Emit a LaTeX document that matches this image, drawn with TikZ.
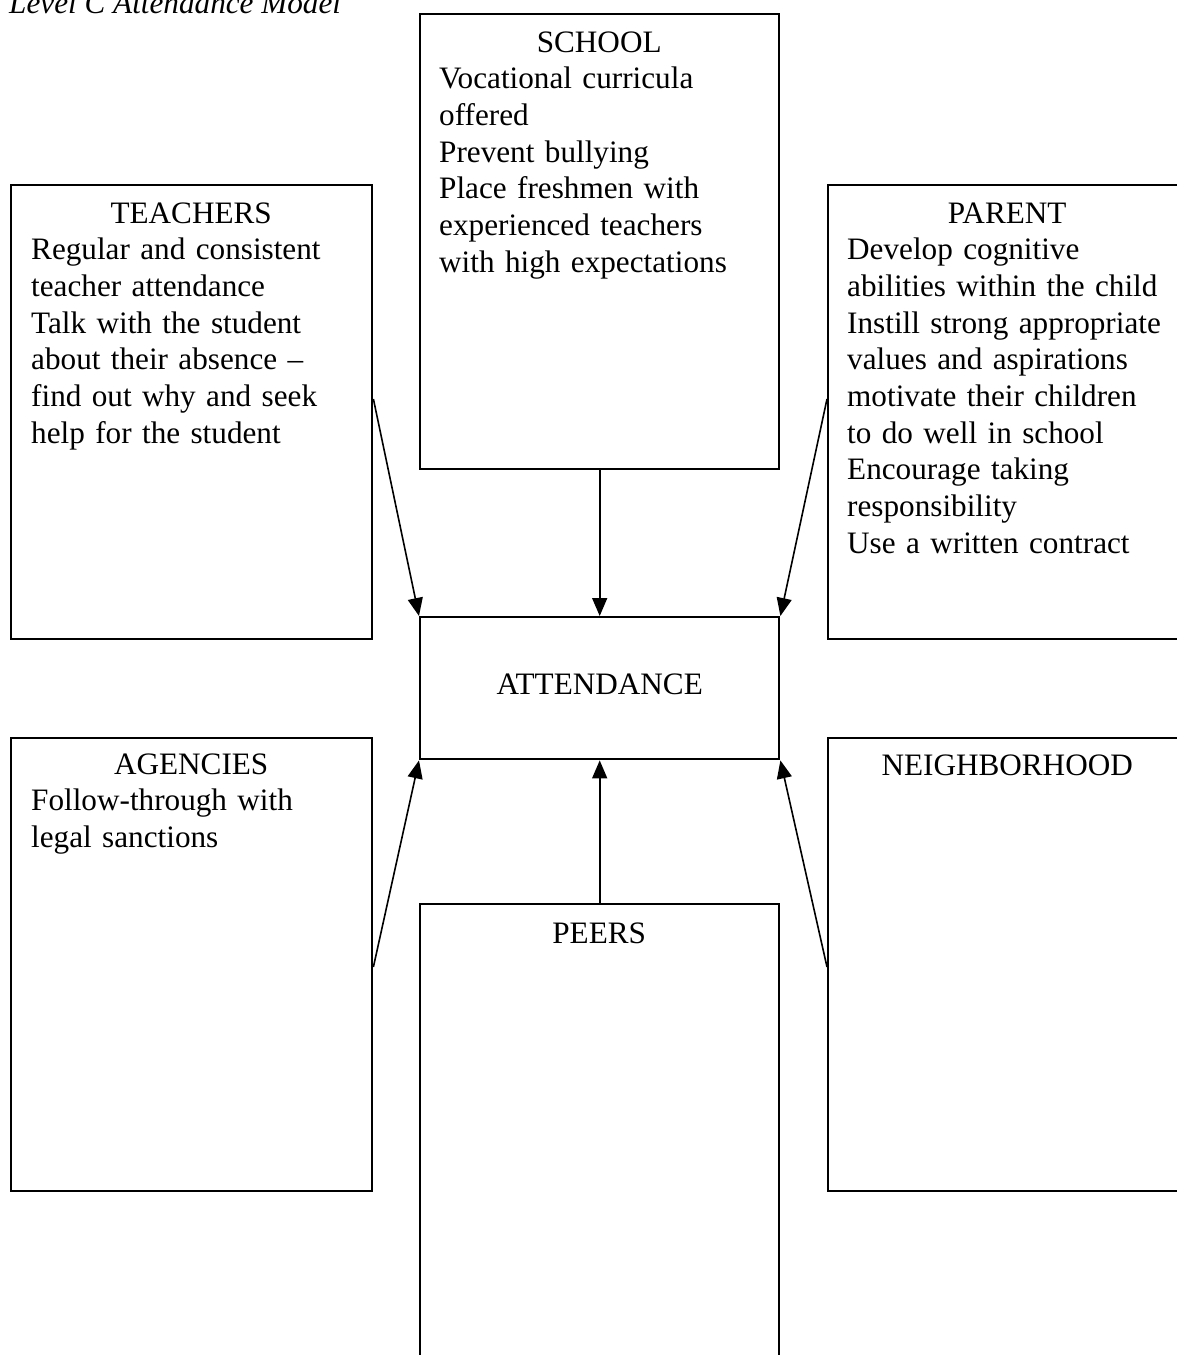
\documentclass[tikz,border=0pt]{standalone}
\usepackage{fontspec}
\setmainfont{Liberation Serif}
\usetikzlibrary{arrows.meta,calc}

\begin{document}
\begin{tikzpicture}[x=1pt, y=-1pt, font=\fontsize{31.2}{36.7}\selectfont,
    box/.style={draw, line width=2.4pt, anchor=north west, inner sep=0pt},
    txt/.style={anchor=base west, text width=320pt, align=left, inner sep=0pt,
                execute at begin node={\hyphenpenalty=10000\exhyphenpenalty=10000}},
    link/.style={line width=1.6pt, -{Triangle[length=18pt,width=15pt]}}]
  \useasboundingbox (0,0) rectangle (1177,1355);
  \clip (0,0) rectangle (1177,1355);
  \fill[white] (0,0) rectangle (1177,1355);

  \node[anchor=base west, inner sep=0pt, font=\fontsize{31.2}{36.7}\selectfont\itshape]
    (title) at (9,13) {Level C Attendance Model};

  \node[box, minimum width=359pt, minimum height=455pt] (school) at (419,13) {};
  \node[box, minimum width=361pt, minimum height=454pt] (teachers) at (10,184) {};
  \node[box, minimum width=361pt, minimum height=454pt] (parent) at (827,184) {};
  \node[box, minimum width=359pt, minimum height=142pt, text depth=9pt] (att) at (419,616) {ATTENDANCE};
  \node[box, minimum width=361pt, minimum height=453pt] (agencies) at (10,737) {};
  \node[box, minimum width=361pt, minimum height=453pt] (neigh) at (827,737) {};
  \node[box, minimum width=359pt, minimum height=500pt] (peers) at (419,903) {};

  \node[txt] (schooltxt) at ([xshift=20pt,yshift=-39pt]school.north west)
    {\hfill SCHOOL\hfill\null\\ Vocational curricula\\ offered\\ Prevent bullying\\
     Place freshmen with\\ experienced teachers\\ with high expectations};
  \node[txt] (teacherstxt) at ([xshift=21pt,yshift=-39pt]teachers.north west)
    {\hfill TEACHERS\hfill\null\\ Regular and consistent\\ teacher attendance\\
     Talk with the student\\ about their absence –\\ find out why and seek\\
     help for the student};
  \node[txt] (parenttxt) at ([xshift=20pt,yshift=-39pt]parent.north west)
    {\hfill PARENT\hfill\null\\ Develop cognitive\\ abilities within the child\\
     Instill strong appropriate\\ values and aspirations\\ motivate their children\\
     to do well in school\\ Encourage taking\\ responsibility\\ Use a written contract};
  \node[txt] (agenciestxt) at ([xshift=21pt,yshift=-37pt]agencies.north west)
    {\hfill AGENCIES\hfill\null\\ Follow-through with\\ legal sanctions};
  \node[txt] (neightxt) at ([xshift=20pt,yshift=-38pt]neigh.north west)
    {\hfill NEIGHBORHOOD\hfill\null};
  \node[txt] (peerstxt) at ([xshift=20pt,yshift=-40pt]peers.north west)
    {\hfill PEERS\hfill\null};

  \draw[link] (school) -- (att);
  \draw[link] (peers) -- (att);
  \draw[link] ($(teachers.north east)!.471!(teachers.south east)$) -- (att.north west);
  \draw[link] ($(parent.north west)!.471!(parent.south west)$) -- (att.north east);
  \draw[link] ($(agencies.north east)!.505!(agencies.south east)$) -- (att.south west);
  \draw[link] ($(neigh.north west)!.505!(neigh.south west)$) -- (att.south east);
\end{tikzpicture}
\end{document}
